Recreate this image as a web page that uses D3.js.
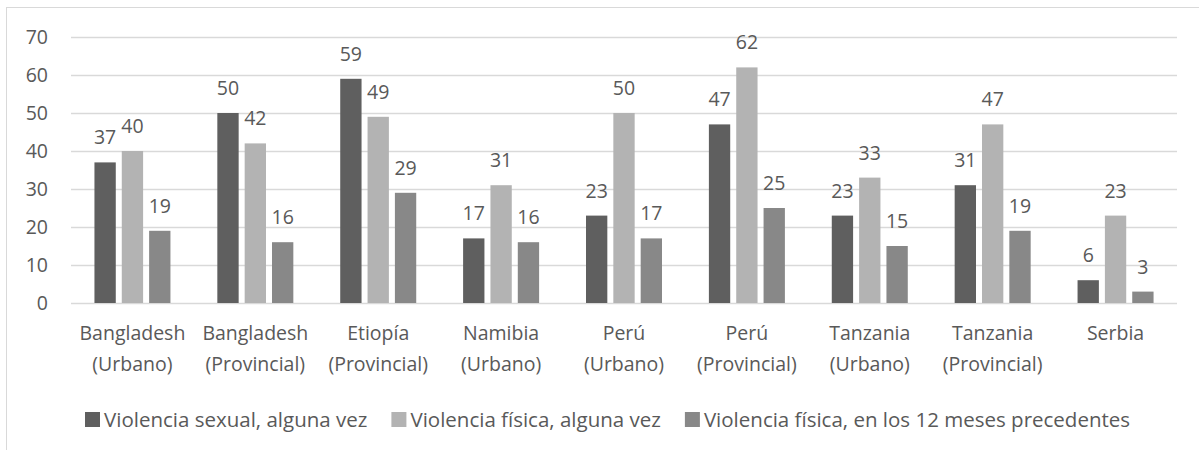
<!DOCTYPE html>
<html lang="es">
<head>
<meta charset="UTF-8">
<title>Violencia</title>
<script src="https://cdn.jsdelivr.net/npm/d3@7/dist/d3.min.js"></script>
<style>
  body { margin: 0; background: #fff; }
  svg text { font-family: "Open Sans", "Liberation Sans", sans-serif; fill: #595959; }
</style>
</head>
<body>
<div id="chart"></div>
<script>
// datos
var categories = [
  ["Bangladesh", "(Urbano)"],
  ["Bangladesh", "(Provincial)"],
  ["Etiopía", "(Provincial)"],
  ["Namibia", "(Urbano)"],
  ["Perú", "(Urbano)"],
  ["Perú", "(Provincial)"],
  ["Tanzania", "(Urbano)"],
  ["Tanzania", "(Provincial)"],
  ["Serbia"]
];
var seriesNames = [
  "Violencia sexual, alguna vez",
  "Violencia física, alguna vez",
  "Violencia física, en los 12 meses precedentes"
];
var sexualEver   = [37, 50, 59, 17, 23, 47, 23, 31, 6];
var physicalEver = [40, 42, 49, 31, 50, 62, 33, 47, 23];
var physical12m  = [19, 16, 29, 16, 17, 25, 15, 19, 3];
var yTicks = [0, 10, 20, 30, 40, 50, 60, 70];

var colors = ["#5f5f5f", "#b3b3b3", "#888888"];
var allSeries = [sexualEver, physicalEver, physical12m];

var W = 1199, H = 450;
var margin = {left: 71, right: 22, top: 37, bottom: 147};
var plotW = W - margin.left - margin.right;
var plotH = H - margin.top - margin.bottom;
var fs = 19.5;

var svg = d3.select("#chart").append("svg")
    .attr("width", W).attr("height", H);

// borde exterior
svg.append("rect")
    .attr("x", 6.5).attr("y", 7.5)
    .attr("width", 1250).attr("height", 600)
    .attr("fill", "none").attr("stroke", "#d9d9d9");

var g = svg.append("g")
    .attr("transform", "translate(" + margin.left + "," + margin.top + ")");

var x = d3.scaleBand()
    .domain(d3.range(categories.length))
    .range([0, plotW])
    .paddingInner(0).paddingOuter(0);

var xs = d3.scaleBand()
    .domain(d3.range(3))
    .range([(x.bandwidth() - 76) / 2, (x.bandwidth() + 76) / 2])
    .paddingInner(0.22);

var y = d3.scaleLinear().domain([0, 70]).range([plotH, 0]);

// lineas de cuadricula
g.selectAll(".grid")
    .data(yTicks)
    .enter().append("line")
    .attr("x1", 0).attr("x2", plotW)
    .attr("y1", function (d) { return Math.round(y(d)) + 0.5; })
    .attr("y2", function (d) { return Math.round(y(d)) + 0.5; })
    .attr("stroke", "#d9d9d9").attr("stroke-width", 1.3);

// eje y
g.selectAll(".ylab")
    .data(yTicks)
    .enter().append("text")
    .attr("x", -23)
    .attr("y", function (d) { return y(d); })
    .attr("dy", "0.35em")
    .attr("text-anchor", "end")
    .attr("font-size", fs)
    .text(function (d) { return d; });

var group = g.selectAll(".cat")
    .data(categories)
    .enter().append("g")
    .attr("class", "cat")
    .attr("transform", function (d, i) { return "translate(" + x(i) + ",0)"; });

allSeries.forEach(function (vals, s) {
  group.append("rect")
      .attr("x", xs(s))
      .attr("width", xs.bandwidth())
      .attr("y", function (d, i) { return y(vals[i]); })
      .attr("height", function (d, i) { return plotH - y(vals[i]); })
      .attr("fill", colors[s]);

  group.append("text")
      .attr("x", xs(s) + xs.bandwidth() / 2)
      .attr("y", function (d, i) { return y(vals[i]) - 18; })
      .attr("text-anchor", "middle")
      .attr("font-size", fs)
      .text(function (d, i) { return vals[i]; });
});

// etiquetas de categorias
group.each(function (d) {
  var t = d3.select(this).append("text")
      .attr("text-anchor", "middle")
      .attr("font-size", fs);
  d.forEach(function (line, k) {
    t.append("tspan")
        .attr("x", x.bandwidth() / 2)
        .attr("y", plotH + 37 + k * 31)
        .text(line);
  });
});

// leyenda
var legend = svg.append("g").attr("transform", "translate(85,419.5)");
var lx = 0;
seriesNames.forEach(function (name, s) {
  var it = legend.append("g").attr("transform", "translate(" + lx + ",0)");
  it.append("rect")
      .attr("x", 0).attr("y", -7.5)
      .attr("width", 15).attr("height", 15)
      .attr("fill", colors[s]);
  var tx = it.append("text")
      .attr("x", 19).attr("y", 0).attr("dy", "0.35em")
      .attr("font-size", 20.5)
      .text(name);
  lx += 19 + tx.node().getComputedTextLength() + 24;
});
</script>
</body>
</html>
